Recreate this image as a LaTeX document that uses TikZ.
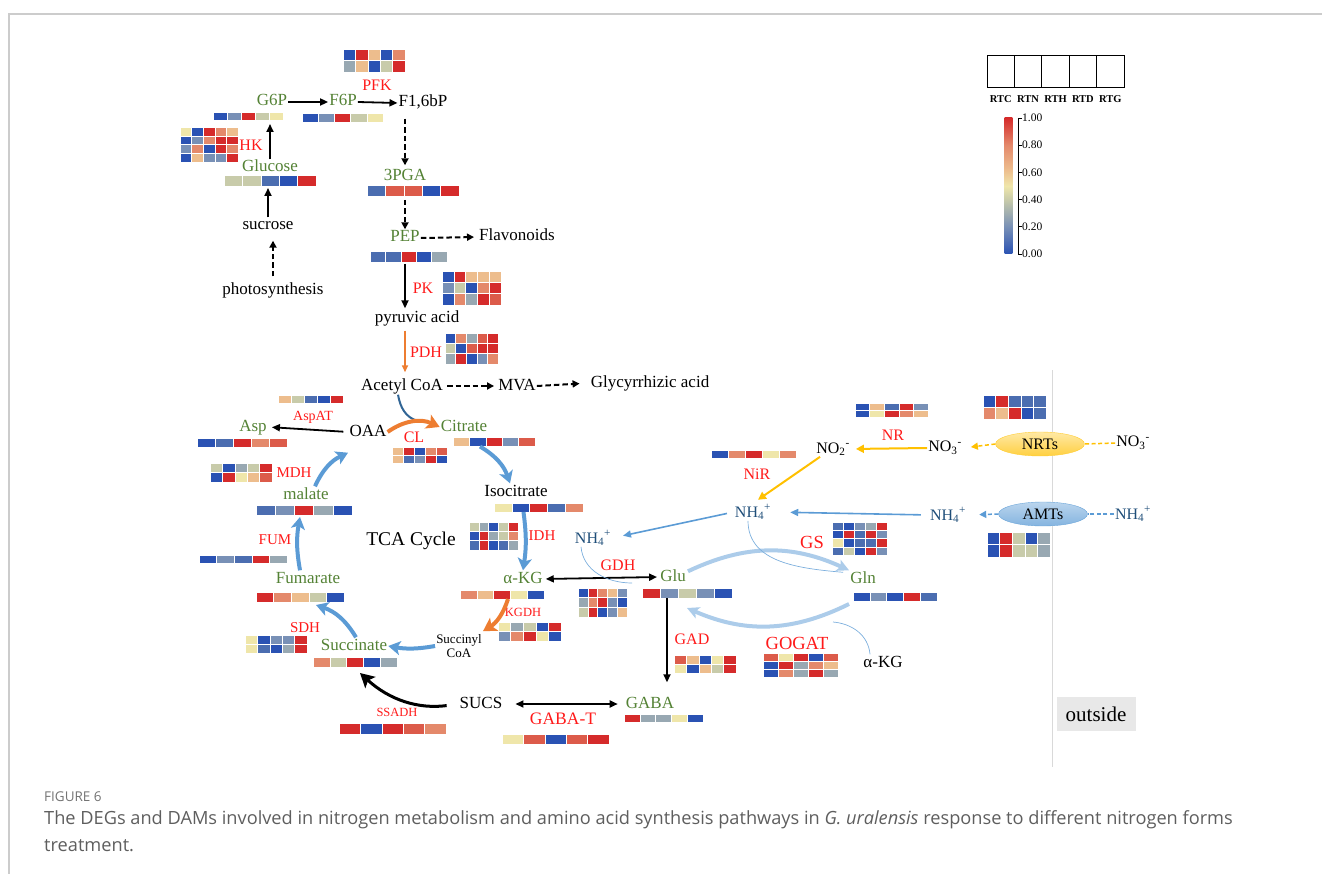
\documentclass[tikz,border=0pt]{standalone}
\usepackage{fontspec}
\setmainfont{Liberation Serif}
\newfontfamily\capfont{Open Sans}
\usepackage{tikz}
\usetikzlibrary{arrows.meta,shapes.geometric,positioning,calc}

% heat map colours
\definecolor{hk}{HTML}{2A52B3}
\definecolor{hm}{HTML}{4B6DB0}
\definecolor{hs}{HTML}{7890B6}
\definecolor{hg}{HTML}{98A8B2}
\definecolor{he}{HTML}{C8CBAA}
\definecolor{hy}{HTML}{EFE6AA}
\definecolor{ho}{HTML}{EDBD8D}
\definecolor{hp}{HTML}{E4896B}
\definecolor{hq}{HTML}{DC5B4A}
\definecolor{hr}{HTML}{D52B2B}
% text and arrow colours
\definecolor{metgreen}{HTML}{548235}
\definecolor{enzred}{HTML}{FF1A1A}
\definecolor{nhblue}{HTML}{1F4E79}
\definecolor{tcablue}{HTML}{5B9BD5}
\definecolor{orangeA}{HTML}{ED7D31}
\definecolor{goldA}{HTML}{FFC000}
\definecolor{cycblue}{HTML}{9DC3E6}
\definecolor{capgray}{HTML}{5E5E5E}

\pgfdeclareverticalshading{heatbar}{20bp}{color(0bp)=(hk); color(25bp)=(hk);
  color(35bp)=(hs); color(45bp)=(he); color(50bp)=(hy); color(56bp)=(ho);
  color(65bp)=(hp); color(75bp)=(hr); color(100bp)=(hr)}

% heat map: name, left, top, cell width, cell height, rows, colour rows
\newcommand{\hmap}[7]{%
  \node[inner sep=0pt, outer sep=0pt, minimum width={5*#4}, minimum height={#6*#5},
    anchor=north west] (#1) at (#2,-#3) {};
  \foreach \hrow [count=\hi] in {#7}{%
    \foreach \hc [count=\hj] in \hrow{%
      \filldraw[fill=h\hc, draw=white, line width=0.5pt]
        ({#2+(\hj-1)*#4},{-#3-(\hi-1)*#5}) rectangle ++(#4,-#5);
    }}%
}

\tikzset{
  lbl/.style={inner sep=1pt, text height=11.5pt, text depth=3.5pt, font=\fontsize{17}{19}\selectfont},
  met/.style={lbl, text=metgreen},
  cmp/.style={lbl, text=black},
  enz/.style={inner sep=1pt, text=enzred, font=\fontsize{16}{18}\selectfont},
  enzs/.style={enz, font=\fontsize{12.5}{14}\selectfont},
  enzl/.style={enz, font=\fontsize{18.5}{20}\selectfont},
  ion/.style={inner sep=1pt, text=nhblue, font=\fontsize{16}{18}\selectfont},
  ionk/.style={ion, text=black},
  solidarr/.style={draw=black, line width=1.8pt, -{Triangle[length=8pt,width=7pt]}},
  dblarr/.style={solidarr, {Triangle[length=8pt,width=7pt]}-{Triangle[length=8pt,width=7pt]}},
  dasharr/.style={draw=black, line width=2pt, dash pattern=on 5.5pt off 3pt,
    -{Triangle[length=7pt,width=7pt]}},
  tcaarr/.style={draw=tcablue, line width=4pt, -{Stealth[length=12pt,width=14pt,inset=3pt]}},
  orarr/.style={draw=orangeA, line width=4pt, -{Stealth[length=13pt,width=15pt,inset=3pt]}},
  goldarr/.style={draw=goldA, line width=2pt, -{Triangle[length=8pt,width=8pt]}},
  nharr/.style={draw=tcablue, line width=1.6pt, -{Triangle[length=8pt,width=7pt]}},
  cycarr/.style={draw=cycblue!85, line width=4pt, -{Stealth[length=12pt,width=12pt,inset=3pt]}},
  thinln/.style={draw=tcablue!80, line width=0.7pt},
  transp/.style={ellipse, minimum width=89pt, minimum height=24pt, inner sep=0pt,
    font=\fontsize{16}{18}\selectfont},
}

\begin{document}
\begin{tikzpicture}[x=1pt, y=1pt]
  \useasboundingbox (0,0) rectangle (1322,-874);
  % frame
  \draw[draw=black!20, line width=1.5pt] (9,-874) -- (9,-14) -- (1322,-14);
  % membrane
  \draw[draw=black!15, line width=1pt] (1052,-370) -- (1052,-767);

  % legend
  \foreach \i in {0,...,4}
    \draw[line width=0.9pt] ({987+\i*27.4},-55) rectangle ++(27.4,-32);
  \foreach \t [count=\i] in {RTC,RTN,RTH,RTD,RTG}
    \node[inner sep=0pt, font=\fontsize{10.5}{12}\selectfont\bfseries] (lg\i) at ({987+(\i-0.5)*27.4},-99) {\t};
  \shade[shading=heatbar] (999,-118) rectangle (1018,-254);
  \draw[line width=0.8pt] (1018,-118) -- (1018,-254);
  \foreach \v [count=\i from 0] in {0.00,0.20,0.40,0.60,0.80,1.00}{
    \draw[line width=0.8pt] (1018,{-254+\i*27.2}) -- ++(4,0);
    \node[anchor=west, inner sep=0pt, font=\fontsize{11.5}{13}\selectfont] (cb\i) at (1022,{-254+\i*27.2}) {\v};
  }

  % glycolysis
  \node[enz] (pfkL) at (377,-85) {PFK};
  \node[met] (g6p) at (272,-102) {G6P};
  \node[met] (f6p) at (343,-102) {F6P};
  \node[cmp] (f16) at (423,-103) {F1,6bP};
  \node[enz] (hkL) at (251,-145) {HK};
  \node[met] (glc) at (270,-168) {Glucose};
  \node[met] (pga) at (405,-177) {3PGA};
  \node[cmp] (suc) at (268,-226) {sucrose};
  \node[cmp] (phot) at (273,-291) {photosynthesis};
  \node[met] (pep) at (405,-238) {PEP};
  \node[cmp] (flav) at (517,-237) {Flavonoids};
  \node[enz] (pkL) at (423,-288) {PK};
  \node[cmp] (pyr) at (417,-319) {pyruvic acid};
  \node[enz] (pdhL) at (426,-352) {PDH};
  \node[cmp] (aco) at (402,-386) {Acetyl CoA};
  \node[cmp] (mva) at (517,-386) {MVA};
  \node[cmp] (gly) at (650,-383) {Glycyrrhizic acid};

  \hmap{hPFK}{343}{49}{12.4}{11.5}{2}{{k,r,o,k,p},{g,o,k,e,r}}
  \hmap{hG6P}{213}{112}{14}{8}{1}{{k,s,r,e,y}}
  \hmap{hF6P}{302}{113}{16.2}{9}{1}{{k,s,r,e,y}}
  \hmap{hHK}{180}{127}{11.6}{8.8}{4}{{y,k,r,p,o},{k,s,p,r,r},{s,p,k,r,p},{k,o,s,s,r}}
  \hmap{hGlc}{224}{175}{18.4}{11}{1}{{e,e,m,k,r}}
  \hmap{hPGA}{367}{185}{18.4}{11}{1}{{m,q,q,k,r}}
  \hmap{hPEP}{370}{251}{15.4}{11}{1}{{m,m,r,k,g}}
  \hmap{hPK}{442}{271}{11.8}{11.3}{3}{{k,r,o,o,o},{s,e,k,p,r},{k,p,g,r,q}}
  \hmap{hPDH}{445}{333}{10.6}{10.3}{3}{{k,p,g,q,r},{e,k,q,r,r},{g,r,k,s,p}}

  \draw[solidarr] (g6p.east) -- (f6p.west);
  \draw[solidarr] (f6p.east) -- (f16.west);
  \draw[solidarr, shorten >=4pt] (glc.north) -- (glc.north |- hG6P.south);
  \draw[dasharr, shorten <=7pt, shorten >=3pt] (pga.north |- f16.south) -- (pga.north);
  \draw[solidarr, shorten >=2pt] (suc.north) -- (suc.north |- hGlc.south);
  \draw[dasharr, shorten <=6pt, shorten >=6pt] (phot.north) -- (phot.north |- suc.south);
  \draw[dasharr, shorten <=4pt] (hPGA.south -| pep.north) -- (pep.north);
  \draw[dasharr, shorten >=4pt] (pep.east) -- (flav.west);
  \draw[solidarr, shorten <=2pt, shorten >=2pt] (hPEP.south -| pga.north) -- (pga.north |- pyr.north);
  \draw[draw=orangeA, line width=1.6pt, -{Triangle[length=7pt,width=6pt]}, shorten <=3pt, shorten >=5pt]
    (pga.north |- pyr.south) -- (pga.north |- aco.north);
  \draw[dasharr, shorten <=3pt, shorten >=3pt] (aco.east) -- (mva.west);
  \draw[dasharr, shorten >=10pt] (mva.east) -- (gly.west);

  % TCA cycle
  \node[met] (asp) at (253,-427) {Asp};
  \node[enz, font=\fontsize{14}{16}\selectfont] (aspatL) at (313,-417) {AspAT};
  \node[cmp] (oaa) at (368,-432) {OAA};
  \node[met] (cit) at (464,-427) {Citrate};
  \node[enz] (clL) at (414,-437) {CL};
  \node[enz, font=\fontsize{15}{17}\selectfont] (mdhL) at (294,-473) {MDH};
  \node[met] (mal) at (306,-495) {malate};
  \node[cmp] (iso) at (516,-492) {Isocitrate};
  \node[enz, font=\fontsize{15}{17}\selectfont] (fumL) at (275,-540) {FUM};
  \node[cmp, font=\fontsize{19.5}{21}\selectfont] (tca) at (411,-541) {TCA Cycle};
  \node[enz, font=\fontsize{15}{17}\selectfont] (idhL) at (542,-536) {IDH};
  \node[met] (fum) at (308,-579) {Fumarate};
  \node[met] (akg) at (523,-579) {α-KG};
  \node[enz, font=\fontsize{15}{17}\selectfont] (sdhL) at (305,-628) {SDH};
  \node[enzs] (kgdhL) at (523,-612) {KGDH};
  \node[met] (succ) at (354,-646) {Succinate};
  \node[inner sep=1pt, font=\fontsize{13}{14}\selectfont, align=center] (sca) at (459,-646) {Succinyl\\CoA};
  \node[cmp] (sucs) at (481,-704) {SUCS};
  \node[enzs] (ssadhL) at (397,-712) {SSADH};
  \node[enz, font=\fontsize{17.5}{19}\selectfont] (gabatL) at (563,-719) {GABA-T};
  \node[met] (gaba) at (650,-704) {GABA};

  \hmap{hAspAT}{278}{395}{13}{8}{1}{{o,e,m,k,r}}
  \hmap{hAsp}{197}{438}{18}{9}{1}{{k,m,r,p,q}}
  \hmap{hMDH}{210}{463}{12.4}{9.5}{2}{{e,k,g,e,r},{k,r,y,o,q}}
  \hmap{hMal}{256}{505}{19.2}{10}{1}{{m,s,r,g,k}}
  \hmap{hFUM}{199}{555}{17.6}{8}{1}{{k,s,m,r,g}}
  \hmap{hFum}{256}{592}{17.6}{10}{1}{{r,p,o,e,k}}
  \hmap{hSDH}{245}{635}{12.4}{9}{2}{{y,k,s,s,r},{y,m,k,g,r}}
  \hmap{hSucc}{313}{657}{16.8}{10}{1}{{p,e,r,k,g}}
  \hmap{hCL}{392}{447}{11}{8}{2}{{o,r,k,p,q},{o,m,s,r,k}}
  \hmap{hCit}{453}{437}{16.4}{9.5}{1}{{o,k,r,s,q}}
  \hmap{hIso}{494}{503}{17.8}{9}{1}{{y,k,r,m,p}}
  \hmap{hIDH}{469}{522}{9.8}{9.3}{3}{{e,g,k,e,r},{k,r,g,e,p},{m,r,k,m,g}}
  \hmap{hAkg}{460}{590}{16.8}{9}{1}{{p,o,r,y,k}}
  \hmap{hKGDH}{498}{622}{12.6}{9.4}{2}{{y,g,e,k,r},{s,p,r,y,k}}
  \hmap{hSSADH}{339}{723}{21.4}{11}{1}{{r,k,r,q,p}}
  \hmap{hGABAT}{502}{734}{21.4}{10}{1}{{y,q,k,q,r}}
  \hmap{hGABA}{624}{714}{15.8}{8}{1}{{r,g,g,y,k}}

  \draw[solidarr, shorten <=5pt, shorten >=4pt] (oaa.west) -- (asp.east);
  \draw[draw=nhblue!70!tcablue, line width=2pt] ([xshift=-4pt]aco.south) to[out=-80, in=165] (418,-421);
  \draw[orarr] (oaa.east) to[bend left=30] (cit.west);
  \draw[tcaarr] ([xshift=-14pt]hCit.south) to[bend left=20] ([xshift=-6pt]iso.north);
  \draw[tcaarr] ([xshift=-15pt]hIso.south) to[bend left=8] (akg.north);
  \draw[orarr] ([xshift=6pt]hAkg.south) to[bend left=20] ([yshift=2pt]sca.north east);
  \draw[tcaarr] (sca.west) to[bend left=10] (succ.east);
  \draw[tcaarr] ([xshift=2pt]succ.north) to[bend right=20] ([xshift=16pt,yshift=-3pt]hFum.south);
  \draw[tcaarr] ([xshift=-8pt]fum.north) to[bend left=10] ([xshift=-4pt,yshift=-2pt]hMal.south);
  \draw[tcaarr] ([xshift=9pt]mal.north) to[bend left=20] ([xshift=-20pt,yshift=-12pt]oaa.south);
  \draw[draw=black, line width=3pt, -{Stealth[length=14pt,width=15pt,inset=3pt]}, shorten <=12pt]
    (sucs.west) to[bend left=25] ([xshift=5pt,yshift=-6pt]hSucc.south);
  \draw[dblarr, shorten <=12pt, shorten >=7pt] (sucs.east) -- (gaba.west);

  % nitrogen assimilation
  \node[met] (glu) at (673,-577) {Glu};
  \node[enz] (gdhL) at (618,-565) {GDH};
  \node[ion] (nhL) at (593,-538) {NH\textsubscript{4}\textsuperscript{+}};
  \node[ion] (nhC) at (753,-512) {NH\textsubscript{4}\textsuperscript{+}};
  \node[enzl] (gsL) at (812,-542) {GS};
  \node[met] (gln) at (863,-579) {Gln};
  \node[enz] (gadL) at (692,-639) {GAD};
  \node[enzl] (gogatL) at (797,-643) {GOGAT};
  \node[cmp] (akgR) at (883,-663) {α-KG};
  \node[ionk] (no2) at (833,-449) {NO\textsubscript{2}\textsuperscript{-}};
  \node[enz] (nrL) at (893,-435) {NR};
  \node[ionk] (no3i) at (945,-448) {NO\textsubscript{3}\textsuperscript{-}};
  \node[enz] (nirL) at (757,-474) {NiR};
  \node[ion] (nhI) at (948,-515) {NH\textsubscript{4}\textsuperscript{+}};
  \node[transp, draw=goldA!80, top color=goldA!35, bottom color=goldA!75] (nrts) at (1040,-444) {NRTs};
  \node[transp, draw=tcablue!90, top color=cycblue!70, bottom color=tcablue!75] (amts) at (1043,-514) {AMTs};
  \node[ionk] (no3o) at (1133,-443) {NO\textsubscript{3}\textsuperscript{-}};
  \node[ion] (nhO) at (1133,-514) {NH\textsubscript{4}\textsuperscript{+}};

  \hmap{hGDH}{578}{588}{9.8}{9.7}{3}{{k,r,p,o,s},{g,p,r,s,k},{e,r,k,s,o}}
  \hmap{hGlu}{642}{588}{18}{10}{1}{{r,s,e,s,k}}
  \hmap{hGAD}{674}{655}{12.4}{9}{2}{{q,o,k,y,r},{y,k,o,e,r}}
  \hmap{hGS}{832}{522}{11}{8.3}{4}{{m,k,s,g,r},{k,r,m,r,s},{y,k,m,m,r},{m,e,k,r,s}}
  \hmap{hGln}{853}{592}{16.8}{9}{1}{{k,s,k,r,m}}
  \hmap{hGOGAT}{763}{653}{15}{8}{3}{{q,y,r,k,q},{k,r,g,p,o},{k,p,g,r,g}}
  \hmap{hNR}{855}{403}{14.6}{7}{2}{{k,o,m,r,s},{k,y,r,p,o}}
  \hmap{hNRT}{983}{395}{12.6}{12}{2}{{k,r,m,m,m},{p,o,r,k,m}}
  \hmap{hNiR}{711}{450}{17}{8}{1}{{k,p,r,y,p}}
  \hmap{hAMT}{987}{532}{12.6}{12.4}{2}{{k,r,e,k,g},{k,r,e,e,g}}

  \draw[dblarr, shorten <=2pt, shorten >=2pt] (akg.east) -- (glu.west);
  \draw[solidarr, shorten >=13pt] ([xshift=25pt]hGlu.south west) -- ([xshift=25pt]hGlu.south west |- gaba.north);
  \draw[cycarr] ([xshift=1pt,yshift=-3pt]glu.north east) to[bend left=25] (gln.north west);
  \draw[cycarr] ([xshift=-4pt,yshift=-3pt]hGln.south west) to[bend left=25] ([yshift=-10pt]hGlu.south);
  \draw[thinln] ([xshift=-5pt]nhC.south) to[out=-90, in=175] ([xshift=-6pt,yshift=-2pt]gln.north west);
  \draw[thinln] ([xshift=-12pt]nhL.south) to[out=-85, in=180] (632,-583);
  \draw[thinln] ([xshift=-13pt]akgR.north) to[out=95, in=-5] (833,-622);
  \draw[nharr, shorten <=7pt, shorten >=11pt] (nhC.west) -- (nhL.east);
  \draw[nharr, shorten <=8pt, shorten >=18pt] (nhI.west) -- (nhC.east);
  \draw[draw=tcablue, line width=1.5pt, dash pattern=on 4pt off 2.5pt,
    -{Triangle[length=7pt,width=7pt]}, shorten >=12pt] (amts.west) -- (nhI.east);
  \draw[draw=tcablue, line width=1.5pt, dash pattern=on 4pt off 2.5pt] (nhO.west) -- (amts.east);
  \draw[draw=goldA, line width=1.5pt, dash pattern=on 4pt off 2.5pt,
    -{Triangle[length=7pt,width=7pt]}, shorten >=8pt] (nrts.west) -- (no3i.east);
  \draw[draw=goldA, line width=1.5pt, dash pattern=on 4pt off 2.5pt] (no3o.west) -- (nrts.east);
  \draw[goldarr, shorten >=5pt] (no3i.west) -- (no2.east);
  \draw[goldarr, shorten >=6pt] ([xshift=5pt]no2.south west) -- (nhC.north);

  % outside
  \node[fill=black!9, minimum width=79pt, minimum height=34pt, inner sep=0pt,
    font=\fontsize{21}{23}\selectfont] (outs) at (1096,-714) {outside};

  % caption
  \node[anchor=west, inner sep=0pt, text=black!55, font=\capfont\fontsize{13.5}{15}\selectfont] (capA) at (44,-797) {FIGURE 6};
  \node[anchor=west, inner sep=0pt, text=capgray, font=\capfont\fontsize{18.2}{20}\selectfont] (capB) at (44,-820)
    {The DEGs and DAMs involved in nitrogen metabolism and amino acid synthesis pathways in \textit{G. uralensis} response to different nitrogen forms};
  \node[anchor=west, inner sep=0pt, text=capgray, font=\capfont\fontsize{18.2}{20}\selectfont] (capC) at (44,-846) {treatment.};
\end{tikzpicture}
\end{document}
